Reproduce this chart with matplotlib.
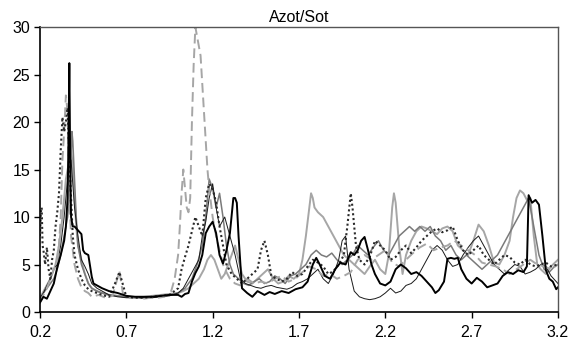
import matplotlib
matplotlib.use("Agg")
import matplotlib.pyplot as plt

plt.rcParams['font.family'] = ['Liberation Sans', 'DejaVu Sans']

title = "Azot/Sot"
xticks = [0.2, 0.7, 1.2, 1.7, 2.2, 2.7, 3.2]
yticks = [0, 5, 10, 15, 20, 25, 30]

# black, thick solid
x1 = [0.20, 0.22, 0.24, 0.26, 0.28, 0.30, 0.32, 0.34, 0.35, 0.36,
      0.365, 0.37, 0.375, 0.38, 0.39, 0.40, 0.42, 0.44, 0.45, 0.46,
      0.48, 0.50, 0.51, 0.53, 0.56, 0.60, 0.65, 0.70, 0.75, 0.80,
      0.85, 0.90, 0.95, 1.00, 1.02, 1.04, 1.06, 1.08, 1.10, 1.12,
      1.14, 1.16, 1.18, 1.20, 1.22, 1.24, 1.26, 1.28, 1.30, 1.32,
      1.33, 1.34, 1.35, 1.37, 1.40, 1.43, 1.46, 1.50, 1.53, 1.56,
      1.60, 1.64, 1.68, 1.72, 1.75, 1.78, 1.80, 1.82, 1.85, 1.88,
      1.91, 1.94, 1.97, 2.00, 2.02, 2.04, 2.06, 2.08, 2.10, 2.12,
      2.14, 2.17, 2.20, 2.23, 2.26, 2.29, 2.32, 2.35, 2.38, 2.41,
      2.44, 2.47, 2.49, 2.51, 2.54, 2.56, 2.58, 2.60, 2.62, 2.64,
      2.67, 2.70, 2.73, 2.76, 2.79, 2.82, 2.85, 2.88, 2.91, 2.94,
      2.97, 3.00, 3.02, 3.03, 3.05, 3.07, 3.09, 3.11, 3.13, 3.15,
      3.17, 3.19, 3.20]
y1 = [1.0, 1.6, 1.4, 2.2, 3.0, 4.7, 6.0, 7.5, 9.0, 12.0,
      18.0, 26.2, 16.0, 10.0, 9.0, 9.0, 8.6, 8.2, 6.5, 6.2,
      6.0, 3.7, 3.0, 2.8, 2.5, 2.2, 2.0, 1.7, 1.6, 1.6,
      1.6, 1.7, 1.8, 1.8, 1.6, 1.9, 2.0, 3.2, 4.1, 4.8,
      6.0, 8.3, 9.0, 9.5, 8.3, 6.0, 5.1, 6.5, 8.3, 12.0,
      12.0, 11.5, 8.0, 2.5, 2.0, 1.6, 2.2, 1.8, 2.1, 1.9,
      2.2, 2.0, 2.4, 2.6, 3.2, 5.0, 5.7, 5.0, 3.8, 3.5,
      4.5, 5.2, 5.0, 6.3, 6.0, 6.5, 7.5, 7.9, 6.5, 5.0,
      4.0, 3.0, 2.8, 3.2, 4.5, 5.0, 4.6, 4.0, 4.2, 3.8,
      3.2, 2.6, 2.0, 2.3, 3.2, 5.6, 5.7, 5.6, 5.7, 4.5,
      3.5, 3.0, 3.6, 3.2, 2.6, 2.8, 3.0, 3.8, 4.2, 4.0,
      4.4, 4.2, 4.8, 12.3, 11.5, 11.8, 11.3, 8.0, 4.4, 3.5,
      3.2, 2.4, 2.6]

# dark dotted
x2 = [0.20, 0.205, 0.21, 0.215, 0.22, 0.23, 0.24, 0.25, 0.26, 0.27,
      0.28, 0.29, 0.30, 0.31, 0.32, 0.33, 0.34, 0.35, 0.36, 0.37,
      0.38, 0.39, 0.40, 0.42, 0.44, 0.46, 0.48, 0.50, 0.53, 0.56,
      0.60, 0.63, 0.66, 0.70, 0.75, 0.80, 0.85, 0.90, 0.95, 1.00,
      1.02, 1.04, 1.06, 1.08, 1.10, 1.12, 1.14, 1.16, 1.18, 1.20,
      1.22, 1.24, 1.26, 1.28, 1.31, 1.34, 1.37, 1.40, 1.43, 1.46,
      1.48, 1.50, 1.52, 1.54, 1.57, 1.60, 1.63, 1.66, 1.69, 1.72,
      1.75, 1.78, 1.81, 1.84, 1.87, 1.90, 1.93, 1.96, 1.98, 2.00,
      2.01, 2.02, 2.03, 2.05, 2.08, 2.11, 2.14, 2.17, 2.20, 2.23,
      2.26, 2.29, 2.32, 2.35, 2.38, 2.41, 2.44, 2.47, 2.50, 2.53,
      2.56, 2.59, 2.62, 2.65, 2.68, 2.71, 2.74, 2.77, 2.80, 2.83,
      2.86, 2.89, 2.92, 2.95, 2.98, 3.01, 3.04, 3.07, 3.10, 3.13,
      3.16, 3.20]
y2 = [8.0, 10.5, 11.0, 7.0, 6.5, 5.0, 6.8, 4.5, 3.5, 5.5,
      6.5, 9.0, 10.5, 12.5, 17.0, 20.5, 19.0, 20.0, 21.5, 16.0,
      12.0, 8.0, 6.0, 4.5, 3.5, 2.8, 2.4, 2.2, 2.0, 1.8,
      1.6, 2.8, 4.2, 1.6, 1.5, 1.5, 1.6, 1.7, 1.8, 2.5,
      4.5, 5.8, 7.0, 8.5, 10.0, 9.0, 8.0, 12.0, 13.5, 13.0,
      11.5, 9.0, 7.0, 5.0, 4.0, 3.5, 3.0, 3.5, 4.0, 4.5,
      6.5, 7.5, 6.0, 3.8, 3.5, 3.2, 3.5, 4.2, 3.8, 4.0,
      4.8, 5.5, 5.2, 4.8, 4.0, 4.3, 5.0, 6.0, 9.0, 12.5,
      11.0, 9.0, 7.0, 5.5, 5.0, 5.8, 7.5, 7.0, 6.5, 5.5,
      5.8, 6.5, 7.0, 6.2, 6.8, 7.5, 8.0, 8.5, 8.8, 8.4,
      8.6, 9.0, 7.5, 6.5, 6.0, 6.5, 7.0, 6.0, 5.5, 5.0,
      5.5, 6.0, 5.8, 5.2, 5.0, 5.5, 5.0, 4.8, 5.0, 5.2,
      4.8, 5.0]

# light grey dashed
x3 = [0.20, 0.22, 0.24, 0.26, 0.28, 0.30, 0.31, 0.32, 0.33, 0.34,
      0.35, 0.36, 0.37, 0.38, 0.40, 0.42, 0.44, 0.46, 0.48, 0.50,
      0.54, 0.58, 0.62, 0.64, 0.66, 0.68, 0.72, 0.76, 0.80, 0.84,
      0.88, 0.92, 0.96, 0.98, 1.00, 1.01, 1.02, 1.03, 1.04, 1.05,
      1.06, 1.07, 1.08, 1.09, 1.10, 1.11, 1.12, 1.13, 1.14, 1.15,
      1.16, 1.17, 1.18, 1.19, 1.20, 1.22, 1.24, 1.26, 1.28, 1.30,
      1.33, 1.36, 1.40, 1.44, 1.48, 1.52, 1.56, 1.60, 1.64, 1.68,
      1.72, 1.76, 1.80, 1.84, 1.88, 1.92, 1.96, 2.00, 2.04, 2.08,
      2.12, 2.16, 2.20, 2.24, 2.28, 2.32, 2.36, 2.40, 2.44, 2.48,
      2.52, 2.56, 2.60, 2.64, 2.68, 2.72, 2.76, 2.80, 2.84, 2.88,
      2.92, 2.96, 3.00, 3.04, 3.08, 3.12, 3.16, 3.20]
y3 = [1.0, 1.8, 2.5, 3.5, 4.5, 5.0, 7.0, 10.0, 16.0, 19.0,
      22.8, 21.0, 12.0, 8.0, 5.0, 3.5, 2.6, 2.2, 2.0, 1.6,
      1.8, 1.5, 1.7, 3.0, 4.3, 2.0, 1.5, 1.5, 1.4, 1.5,
      1.5, 1.6, 2.2, 3.5, 6.0, 9.0, 12.5, 15.0, 13.0, 11.0,
      10.5, 12.0, 20.0, 26.0, 30.0, 29.0, 28.0, 27.0, 24.0, 21.0,
      18.0, 15.0, 13.0, 11.5, 10.0, 8.0, 6.5, 5.0, 4.2, 3.5,
      3.0, 2.8, 3.5, 3.0, 3.2, 3.0, 3.5, 3.8, 3.2, 3.5,
      4.2, 4.8, 4.5, 3.8, 4.0, 3.5, 3.8, 4.2, 5.5, 6.0,
      5.5, 6.0, 6.5, 5.2, 4.8, 5.5, 6.2, 6.8, 7.2, 6.5,
      6.8, 7.0, 7.5, 7.0, 6.5, 6.0, 5.2, 5.0, 4.8, 4.5,
      4.0, 4.5, 5.0, 5.5, 5.0, 4.8, 4.5, 5.0]

# light grey solid
x4 = [0.20, 0.23, 0.26, 0.29, 0.31, 0.33, 0.35, 0.37, 0.38, 0.39,
      0.40, 0.41, 0.42, 0.44, 0.46, 0.48, 0.50, 0.53, 0.56, 0.60,
      0.65, 0.70, 0.75, 0.80, 0.85, 0.90, 0.95, 1.00, 1.03, 1.06,
      1.09, 1.12, 1.15, 1.17, 1.19, 1.21, 1.23, 1.25, 1.27, 1.29,
      1.31, 1.33, 1.35, 1.37, 1.40, 1.43, 1.46, 1.49, 1.52, 1.55,
      1.58, 1.61, 1.64, 1.67, 1.70, 1.72, 1.74, 1.76, 1.77, 1.78,
      1.79, 1.81, 1.84, 1.87, 1.90, 1.93, 1.96, 1.99, 2.02, 2.05,
      2.08, 2.11, 2.14, 2.17, 2.20, 2.22, 2.24, 2.25, 2.26, 2.28,
      2.30, 2.32, 2.35, 2.38, 2.41, 2.44, 2.47, 2.50, 2.53, 2.56,
      2.59, 2.62, 2.65, 2.68, 2.71, 2.74, 2.77, 2.80, 2.83, 2.86,
      2.89, 2.92, 2.94, 2.96, 2.98, 3.00, 3.02, 3.04, 3.06, 3.08,
      3.10, 3.13, 3.16, 3.20]
y4 = [1.5, 2.5, 3.5, 5.0, 7.0, 10.0, 14.0, 16.0, 17.0, 15.5,
      12.0, 9.0, 7.0, 5.5, 4.0, 3.0, 2.5, 2.2, 2.0, 1.8,
      1.7, 1.6, 1.6, 1.6, 1.7, 1.8, 1.9, 2.0, 2.2, 2.5,
      3.0, 3.5, 4.5, 5.5, 6.0, 5.5, 4.5, 3.5, 4.0, 5.0,
      6.0, 7.0, 5.5, 4.0, 3.2, 3.0, 3.5, 4.0, 4.5, 3.5,
      3.0, 3.2, 3.8, 3.5, 4.0, 5.5, 8.0, 11.0, 12.5, 12.0,
      11.0, 10.5, 10.0, 9.0, 8.0, 7.0, 6.0, 5.5, 5.0, 4.5,
      4.0, 4.8, 5.5, 4.5, 4.0, 6.0, 11.0, 12.5, 11.5, 7.0,
      4.0, 6.0, 7.5, 8.5, 9.0, 8.8, 8.5, 8.2, 8.8, 9.0,
      8.5, 7.0, 6.5, 6.0, 7.5, 9.2, 8.5, 7.0, 5.2, 5.0,
      6.0, 7.5, 10.0, 12.0, 12.8, 12.5, 11.8, 12.0, 8.0, 5.0,
      4.5, 4.0, 4.8, 5.5]

# medium grey solid
x5 = [0.20, 0.22, 0.24, 0.26, 0.28, 0.30, 0.32, 0.34, 0.36, 0.37,
      0.38, 0.385, 0.39, 0.40, 0.41, 0.42, 0.44, 0.46, 0.48, 0.50,
      0.53, 0.56, 0.60, 0.65, 0.70, 0.75, 0.80, 0.85, 0.90, 0.95,
      1.00, 1.04, 1.08, 1.11, 1.14, 1.16, 1.18, 1.20, 1.22, 1.24,
      1.26, 1.28, 1.30, 1.32, 1.35, 1.38, 1.41, 1.44, 1.47, 1.50,
      1.53, 1.56, 1.59, 1.62, 1.65, 1.68, 1.71, 1.74, 1.77, 1.80,
      1.83, 1.86, 1.89, 1.92, 1.95, 1.98, 2.01, 2.04, 2.07, 2.10,
      2.13, 2.16, 2.19, 2.22, 2.25, 2.28, 2.31, 2.34, 2.37, 2.40,
      2.43, 2.46, 2.49, 2.52, 2.55, 2.58, 2.61, 2.64, 2.67, 2.70,
      2.73, 2.76, 2.79, 2.82, 2.85, 2.88, 2.91, 2.94, 2.97, 3.00,
      3.03, 3.06, 3.09, 3.12, 3.15, 3.18, 3.20]
y5 = [1.2, 2.0, 2.5, 3.0, 3.5, 4.5, 6.0, 8.0, 10.0, 12.0,
      16.0, 19.0, 18.0, 14.0, 10.0, 7.0, 5.0, 4.0, 3.0, 2.5,
      2.2, 2.0, 1.8, 1.7, 1.6, 1.5, 1.5, 1.6, 1.7, 1.8,
      2.0, 2.5, 3.5, 5.0, 7.0, 10.0, 14.0, 13.0, 11.0, 12.5,
      10.0, 7.0, 5.0, 4.0, 3.5, 3.0, 2.8, 3.2, 3.5, 3.0,
      3.2, 3.8, 3.5, 3.0, 3.8, 4.0, 4.5, 5.0, 6.0, 6.5,
      6.0, 5.8, 6.2, 5.5, 5.0, 5.5, 6.0, 7.0, 6.5, 6.0,
      6.8, 7.5, 6.5, 6.0, 7.0, 8.0, 8.5, 9.0, 8.5, 9.0,
      8.5, 9.0, 8.0, 7.5, 6.5, 7.0, 6.0, 5.5, 6.0, 5.5,
      5.0, 4.5, 5.0, 5.5, 6.0, 7.0, 8.0, 9.0, 10.0, 11.0,
      12.0, 9.0, 6.0, 4.5, 4.2, 4.8, 5.0]

# thin black
x6 = [0.20, 0.22, 0.24, 0.26, 0.28, 0.30, 0.32, 0.34, 0.36, 0.38,
      0.40, 0.42, 0.44, 0.46, 0.48, 0.50, 0.53, 0.56, 0.60, 0.65,
      0.70, 0.75, 0.80, 0.85, 0.90, 0.95, 1.00, 1.03, 1.06, 1.09,
      1.12, 1.14, 1.16, 1.18, 1.20, 1.22, 1.24, 1.27, 1.30, 1.33,
      1.36, 1.39, 1.42, 1.45, 1.48, 1.51, 1.54, 1.57, 1.60, 1.63,
      1.66, 1.69, 1.72, 1.75, 1.78, 1.81, 1.84, 1.87, 1.90, 1.93,
      1.95, 1.97, 1.99, 2.02, 2.05, 2.08, 2.11, 2.14, 2.17, 2.20,
      2.23, 2.26, 2.29, 2.32, 2.35, 2.38, 2.41, 2.44, 2.47, 2.50,
      2.53, 2.56, 2.59, 2.62, 2.65, 2.68, 2.71, 2.74, 2.77, 2.80,
      2.83, 2.86, 2.89, 2.92, 2.95, 2.98, 3.01, 3.04, 3.07, 3.10,
      3.13, 3.16, 3.20]
y6 = [1.5, 2.0, 2.8, 3.5, 4.5, 5.0, 7.0, 10.0, 14.0, 16.0,
      11.0, 8.0, 5.5, 4.8, 4.0, 3.0, 2.5, 2.2, 1.8, 1.6,
      1.5, 1.5, 1.5, 1.5, 1.6, 1.7, 2.0, 2.5, 3.5, 4.5,
      5.5, 8.0, 9.5, 12.0, 13.5, 11.0, 9.0, 10.0, 8.0, 6.0,
      3.5, 3.0, 2.8, 2.6, 2.5, 2.7, 2.8, 2.6, 2.5, 2.4,
      2.6, 3.0, 3.2, 3.5, 4.0, 4.5, 3.5, 3.0, 4.0, 5.5,
      7.5, 8.0, 4.5, 2.2, 1.6, 1.4, 1.3, 1.4, 1.6, 2.0,
      2.5, 2.0, 2.2, 2.8, 3.0, 3.5, 4.5, 5.5, 6.5, 7.0,
      6.5, 5.5, 4.8, 5.0, 6.0, 6.8, 7.5, 8.0, 7.0, 6.0,
      5.0, 4.5, 4.0, 4.5, 5.0, 4.8, 4.0, 4.2, 4.5, 5.0,
      4.8, 3.8, 3.0]

for a, b in [(x1, y1), (x2, y2), (x3, y3), (x4, y4), (x5, y5), (x6, y6)]:
    assert len(a) == len(b), (len(a), len(b))

fig = plt.figure(figsize=(5.77, 3.49), dpi=100)
ax = fig.add_axes([0.0693, 0.106, 0.8977, 0.8165])

ax.plot(x4, y4, color='#a6a6a6', lw=1.4)
ax.plot(x5, y5, color='#7a7a7a', lw=1.1)
ax.plot(x6, y6, color='#1a1a1a', lw=0.7)
ax.plot(x3, y3, color='#a6a6a6', lw=1.4, dashes=(5, 2.5))
ax.plot(x2, y2, color='#2a2a2a', lw=1.5, dashes=(1, 1.3))
ax.plot(x1, y1, color='#000000', lw=1.4)

ax.set_xlim(0.2, 3.2)
ax.set_ylim(0, 30)
ax.set_xticks(xticks)
ax.set_xticklabels([f"{t:.1f}" for t in xticks])
ax.set_yticks(yticks)
ax.tick_params(axis='both', direction='out', length=4, width=1, labelsize=11.5, colors='black')
ax.tick_params(axis='x', pad=5)
ax.tick_params(axis='y', pad=3)

for side in ['left', 'bottom']:
    ax.spines[side].set_color('black')
    ax.spines[side].set_linewidth(1.2)
for side in ['top', 'right']:
    ax.spines[side].set_color('#555555')
    ax.spines[side].set_linewidth(1.0)

ax.set_title(title, fontsize=11.5, pad=3.5)

fig.savefig("out.png", dpi=100)
